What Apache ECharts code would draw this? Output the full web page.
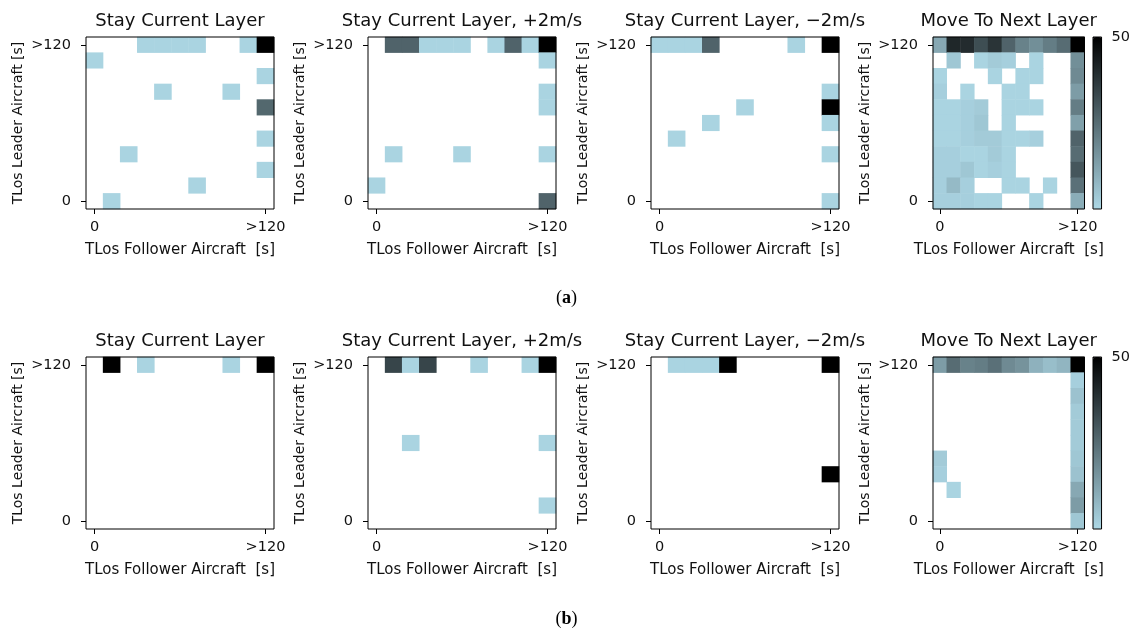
<!DOCTYPE html>
<html>
<head>
<meta charset="utf-8">
<title>TLos heatmaps</title>
<script src="https://cdn.jsdelivr.net/npm/echarts@6/dist/echarts.min.js"></script>
<style>
  html, body { margin: 0; padding: 0; background: #fff; }
  #chart { width: 1133px; height: 631px; }
</style>
</head>
<body>
<div id="chart"></div>
<script>
// Time-to-loss-of-separation bins (both axes)
const bins = ['0', '12', '24', '36', '48', '60', '72', '84', '96', '108', '>120'];

const panelTitles = ['Stay Current Layer', 'Stay Current Layer, +2m/s', 'Stay Current Layer, \u22122m/s', 'Move To Next Layer'];
const xAxisTitle = 'TLos Follower Aircraft  [s]';
const yAxisTitle = 'TLos Leader Aircraft [s]';
const subLabels = ['a', 'b'];
const colorMax = 50;

// Counts per cell; each matrix is listed from the top row (>120) down to row 0,
// columns from 0 to >120. Zero means no occurrence (left blank).
const stayA = [
  [0, 0, 0, 1, 1, 1, 1, 0, 0, 1, 50],
  [1, 0, 0, 0, 0, 0, 0, 0, 0, 0, 0],
  [0, 0, 0, 0, 0, 0, 0, 0, 0, 0, 1],
  [0, 0, 0, 0, 1, 0, 0, 0, 1, 0, 0],
  [0, 0, 0, 0, 0, 0, 0, 0, 0, 0, 26],
  [0, 0, 0, 0, 0, 0, 0, 0, 0, 0, 0],
  [0, 0, 0, 0, 0, 0, 0, 0, 0, 0, 1],
  [0, 0, 1, 0, 0, 0, 0, 0, 0, 0, 0],
  [0, 0, 0, 0, 0, 0, 0, 0, 0, 0, 1],
  [0, 0, 0, 0, 0, 0, 1, 0, 0, 0, 0],
  [0, 1, 0, 0, 0, 0, 0, 0, 0, 0, 0]
];
const stayUpA = [
  [0, 27, 27, 1, 1, 1, 0, 1, 27, 1, 50],
  [0, 0, 0, 0, 0, 0, 0, 0, 0, 0, 1],
  [0, 0, 0, 0, 0, 0, 0, 0, 0, 0, 0],
  [0, 0, 0, 0, 0, 0, 0, 0, 0, 0, 1],
  [0, 0, 0, 0, 0, 0, 0, 0, 0, 0, 1],
  [0, 0, 0, 0, 0, 0, 0, 0, 0, 0, 0],
  [0, 0, 0, 0, 0, 0, 0, 0, 0, 0, 0],
  [0, 1, 0, 0, 0, 1, 0, 0, 0, 0, 1],
  [0, 0, 0, 0, 0, 0, 0, 0, 0, 0, 0],
  [1, 0, 0, 0, 0, 0, 0, 0, 0, 0, 0],
  [0, 0, 0, 0, 0, 0, 0, 0, 0, 0, 27]
];
const stayDownA = [
  [1, 1, 1, 27, 0, 0, 0, 0, 1, 0, 50],
  [0, 0, 0, 0, 0, 0, 0, 0, 0, 0, 0],
  [0, 0, 0, 0, 0, 0, 0, 0, 0, 0, 0],
  [0, 0, 0, 0, 0, 0, 0, 0, 0, 0, 1],
  [0, 0, 0, 0, 0, 1, 0, 0, 0, 0, 50],
  [0, 0, 0, 1, 0, 0, 0, 0, 0, 0, 1],
  [0, 1, 0, 0, 0, 0, 0, 0, 0, 0, 0],
  [0, 0, 0, 0, 0, 0, 0, 0, 0, 0, 1],
  [0, 0, 0, 0, 0, 0, 0, 0, 0, 0, 0],
  [0, 0, 0, 0, 0, 0, 0, 0, 0, 0, 0],
  [0, 0, 0, 0, 0, 0, 0, 0, 0, 0, 1]
];
const moveA = [
  [11, 41, 40, 32, 38, 27, 20, 17, 21, 25, 50],
  [0, 4, 0, 1, 3, 2, 0, 1, 0, 0, 17],
  [1, 0, 0, 0, 1, 0, 1, 1, 0, 0, 18],
  [2, 0, 1, 0, 0, 1, 1, 0, 0, 0, 14],
  [1, 1, 2, 3, 0, 1, 1, 1, 0, 0, 21],
  [1, 1, 2, 4, 0, 1, 0, 0, 0, 0, 13],
  [1, 1, 2, 3, 3, 1, 1, 2, 0, 0, 27],
  [2, 2, 1, 1, 3, 1, 0, 0, 0, 0, 25],
  [2, 2, 4, 1, 2, 1, 0, 0, 0, 0, 30],
  [2, 7, 2, 0, 0, 1, 1, 0, 1, 0, 24],
  [2, 2, 2, 1, 1, 0, 0, 1, 0, 0, 10]
];
const stayB = [
  [0, 50, 0, 1, 0, 0, 0, 0, 1, 0, 50],
  [0, 0, 0, 0, 0, 0, 0, 0, 0, 0, 0],
  [0, 0, 0, 0, 0, 0, 0, 0, 0, 0, 0],
  [0, 0, 0, 0, 0, 0, 0, 0, 0, 0, 0],
  [0, 0, 0, 0, 0, 0, 0, 0, 0, 0, 0],
  [0, 0, 0, 0, 0, 0, 0, 0, 0, 0, 0],
  [0, 0, 0, 0, 0, 0, 0, 0, 0, 0, 0],
  [0, 0, 0, 0, 0, 0, 0, 0, 0, 0, 0],
  [0, 0, 0, 0, 0, 0, 0, 0, 0, 0, 0],
  [0, 0, 0, 0, 0, 0, 0, 0, 0, 0, 0],
  [0, 0, 0, 0, 0, 0, 0, 0, 0, 0, 0]
];
const stayUpB = [
  [0, 34, 1, 34, 0, 0, 1, 0, 0, 1, 50],
  [0, 0, 0, 0, 0, 0, 0, 0, 0, 0, 0],
  [0, 0, 0, 0, 0, 0, 0, 0, 0, 0, 0],
  [0, 0, 0, 0, 0, 0, 0, 0, 0, 0, 0],
  [0, 0, 0, 0, 0, 0, 0, 0, 0, 0, 0],
  [0, 0, 1, 0, 0, 0, 0, 0, 0, 0, 1],
  [0, 0, 0, 0, 0, 0, 0, 0, 0, 0, 0],
  [0, 0, 0, 0, 0, 0, 0, 0, 0, 0, 0],
  [0, 0, 0, 0, 0, 0, 0, 0, 0, 0, 0],
  [0, 0, 0, 0, 0, 0, 0, 0, 0, 0, 1],
  [0, 0, 0, 0, 0, 0, 0, 0, 0, 0, 0]
];
const stayDownB = [
  [0, 1, 1, 1, 50, 0, 0, 0, 0, 0, 50],
  [0, 0, 0, 0, 0, 0, 0, 0, 0, 0, 0],
  [0, 0, 0, 0, 0, 0, 0, 0, 0, 0, 0],
  [0, 0, 0, 0, 0, 0, 0, 0, 0, 0, 0],
  [0, 0, 0, 0, 0, 0, 0, 0, 0, 0, 0],
  [0, 0, 0, 0, 0, 0, 0, 0, 0, 0, 0],
  [0, 0, 0, 0, 0, 0, 0, 0, 0, 0, 0],
  [0, 0, 0, 0, 0, 0, 0, 0, 0, 0, 50],
  [0, 0, 0, 0, 0, 0, 0, 0, 0, 0, 0],
  [0, 0, 0, 0, 0, 0, 0, 0, 0, 0, 0],
  [0, 0, 0, 0, 0, 0, 0, 0, 0, 0, 0]
];
const moveB = [
  [14, 25, 20, 21, 24, 18, 16, 9, 6, 8, 50],
  [0, 0, 0, 0, 0, 0, 0, 0, 0, 0, 2],
  [0, 0, 0, 0, 0, 0, 0, 0, 0, 0, 5],
  [0, 0, 0, 0, 0, 0, 0, 0, 0, 0, 3],
  [0, 0, 0, 0, 0, 0, 0, 0, 0, 0, 3],
  [0, 0, 0, 0, 0, 0, 0, 0, 0, 0, 3],
  [3, 0, 0, 0, 0, 0, 0, 0, 0, 0, 4],
  [2, 0, 0, 0, 0, 0, 0, 0, 0, 0, 5],
  [0, 1, 0, 0, 0, 0, 0, 0, 0, 0, 11],
  [0, 0, 0, 0, 0, 0, 0, 0, 0, 0, 14],
  [0, 0, 0, 0, 0, 0, 0, 0, 0, 0, 4]
];

const rowsOfPanels = [
  [stayA, stayUpA, stayDownA, moveA],
  [stayB, stayUpB, stayDownB, moveB]
];

// ---- layout ----
const FONT = 'DejaVu Sans';
const TEXT = '#111';
const boxLefts = [86, 368, 651, 933];
const boxWidths = [188, 188, 188, 151.5];
const boxTops = [37, 357];
const boxHeight = 172;
const barLeft = 1093, barWidth = 9;
const subLabelTops = [289, 610];
const subLabelX = 566.5;

function toCells(matrix) {
  const cells = [];
  const n = matrix.length;
  matrix.forEach((row, r) => {
    row.forEach((v, c) => {
      if (v > 0) cells.push([c, n - 1 - r, v]);
    });
  });
  return cells;
}

const edgeOnly = (idx) => idx === 0 || idx === bins.length - 1;

const grid = [], xAxis = [], yAxis = [], series = [], title = [], visualMap = [];

rowsOfPanels.forEach((panels, ri) => {
  const seriesIdx = [];
  panels.forEach((matrix, pi) => {
    const gi = grid.length;
    grid.push({
      left: boxLefts[pi], top: boxTops[ri], width: boxWidths[pi], height: boxHeight,
      show: true, z: 10, backgroundColor: 'transparent',
      borderColor: '#000', borderWidth: 1
    });
    xAxis.push({
      gridIndex: gi, type: 'category', data: bins, position: 'bottom',
      name: xAxisTitle, nameLocation: 'middle', nameGap: 34,
      nameTextStyle: { fontFamily: FONT, fontSize: 15, color: TEXT },
      axisLine: { show: false },
      axisTick: { show: true, alignWithLabel: true, interval: edgeOnly, length: 5, lineStyle: { color: '#000' } },
      axisLabel: { interval: edgeOnly, margin: 11, fontFamily: FONT, fontSize: 14.5, color: TEXT },
      splitLine: { show: false }
    });
    yAxis.push({
      gridIndex: gi, type: 'category', data: bins, position: 'left',
      name: yAxisTitle, nameLocation: 'middle', nameGap: 61,
      nameTextStyle: { fontFamily: FONT, fontSize: 14, color: TEXT },
      axisLine: { show: false },
      axisTick: { show: true, alignWithLabel: true, interval: edgeOnly, length: 5, lineStyle: { color: '#000' } },
      axisLabel: { interval: edgeOnly, margin: 15, fontFamily: FONT, fontSize: 14.5, color: TEXT },
      splitLine: { show: false }
    });
    seriesIdx.push(series.length);
    series.push({
      type: 'heatmap', xAxisIndex: gi, yAxisIndex: gi,
      data: toCells(matrix),
      itemStyle: { borderWidth: 0 },
      emphasis: { disabled: true },
      progressive: 0
    });
    title.push({
      text: panelTitles[pi],
      left: boxLefts[pi] + boxWidths[pi] / 2, top: boxTops[ri] - 25,
      textAlign: 'center', padding: 0,
      textStyle: { fontFamily: FONT, fontSize: 18, fontWeight: 'normal', color: TEXT }
    });
  });

  // colour bar: gradient from the visualMap, outline and tick from its own axis
  visualMap.push({
    type: 'continuous', seriesIndex: seriesIdx,
    min: 0, max: colorMax, calculable: false, hoverLink: false,
    inRange: { color: ['#add8e6', '#000000'] },
    orient: 'vertical', left: barLeft, top: boxTops[ri],
    itemWidth: barWidth, itemHeight: boxHeight, padding: 0, text: null,
    show: true
  });
  const cg = grid.length;
  grid.push({
    left: barLeft, top: boxTops[ri], width: barWidth, height: boxHeight,
    show: true, z: 10, backgroundColor: 'transparent', borderColor: '#000', borderWidth: 1
  });
  xAxis.push({ gridIndex: cg, type: 'value', show: false, min: 0, max: 1 });
  yAxis.push({
    gridIndex: cg, type: 'value', position: 'right', min: 0, max: colorMax,
    axisLine: { show: false },
    splitLine: { show: false },
    axisTick: { show: true, length: 5, customValues: [colorMax], lineStyle: { color: '#000' } },
    axisLabel: { customValues: [colorMax], margin: 10, fontFamily: FONT, fontSize: 14.5, color: TEXT }
  });

  title.push({
    text: '({b|' + subLabels[ri] + '})',
    left: subLabelX, top: subLabelTops[ri], textAlign: 'center', padding: 0,
    textStyle: {
      fontFamily: 'Liberation Serif', fontSize: 18, fontWeight: 'normal', color: '#000',
      rich: { b: { fontFamily: 'Liberation Serif', fontSize: 18, fontWeight: 'bold', color: '#000' } }
    }
  });
});

const chart = echarts.init(document.getElementById('chart'), null, { renderer: 'canvas' });
chart.setOption({
  backgroundColor: '#fff',
  animation: false,
  title, grid, xAxis, yAxis, visualMap, series,
  tooltip: { show: false }
});
</script>
</body>
</html>
